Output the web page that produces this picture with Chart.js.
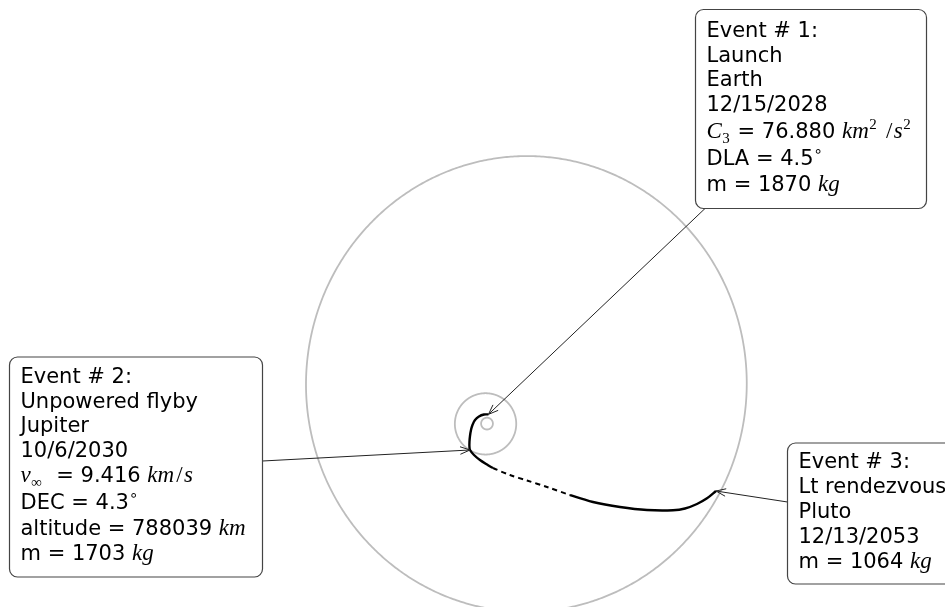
<!DOCTYPE html>
<html>
<head>
<meta charset="utf-8">
<script src="https://cdn.jsdelivr.net/npm/chart.js@4.4.1/dist/chart.umd.min.js"></script>
<style>
  html, body { margin: 0; padding: 0; background: #fff; overflow: hidden; }
  #wrap { width: 945px; height: 607px; }
</style>
</head>
<body>
<div id="wrap"><canvas id="c" width="945" height="607"></canvas></div>
<script>
// Heliocentric ecliptic trajectory, AU
const trajX = [0.25, -0.51, -1.36, -2.03, -2.46, -2.71, -2.88, -2.97, -2.97, -2.88,
               -2.20, -1.19, 0.00, 1.02, 3.90, 6.78, 10.17, 14.07, 17.97, 22.54,
               27.12, 31.53, 33.56, 35.59, 37.29, 38.81];
const trajY = [1.55, 1.53, 1.19, 0.59, -0.25, -1.10, -2.12, -3.14, -3.98, -4.49,
               -5.34, -6.19, -6.95, -7.54, -8.73, -9.66, -10.76, -12.12, -13.31, -14.15,
               -14.66, -14.70, -14.41, -13.64, -12.68, -11.44];
// sparse coast stretch drawn broken
const coastStart = 13;
const coastEnd = 17;

// Event points along the trajectory: launch, flyby, rendezvous
const eventIndex = [0, 9, 25];

// Planet orbits: a [AU], e, i [deg], node [deg], arg. of perihelion [deg]
const orbitNames = ['Earth', 'Jupiter', 'Pluto'];
const orbitA    = [1.0000, 5.2026, 39.482];
const orbitE    = [0.0167, 0.0484, 0.2488];
const orbitInc  = [0.000, 1.303, 17.14];
const orbitNode = [0.00, 100.46, 110.30];
const orbitPeri = [102.94, 273.87, 113.83];

// Event label text; runs are [text, style]
const event1Lines = [
  [['Event # 1:', 'n']],
  [['Launch', 'n']],
  [['Earth', 'n']],
  [['12/15/2028', 'n']],
  [['C', 'mi'], ['3', 'sub'], [' = 76.880 ', 'n'], ['km', 'mi'], ['2', 'sup'], [' ', 'n'], ['/', 'sl'], ['s', 'mi'], ['2', 'sup']],
  [['DLA = 4.5', 'n'], ['\u2218', 'deg']],
  [['m = 1870 ', 'n'], ['kg', 'mi']]
];
const event2Lines = [
  [['Event # 2:', 'n']],
  [['Unpowered flyby', 'n']],
  [['Jupiter', 'n']],
  [['10/6/2030', 'n']],
  [['v', 'mi'], ['\u221E', 'sub'], ['  = 9.416 ', 'n'], ['km', 'mi'], ['/', 'sl'], ['s', 'mi']],
  [['DEC = 4.3', 'n'], ['\u2218', 'deg']],
  [['altitude = 788039 ', 'n'], ['km', 'mi']],
  [['m = 1703 ', 'n'], ['kg', 'mi']]
];
const event3Lines = [
  [['Event # 3:', 'n']],
  [['Lt rendezvous', 'n']],
  [['Pluto', 'n']],
  [['12/13/2053', 'n']],
  [['m = 1064 ', 'n'], ['kg', 'mi']]
];

// Callout boxes (pixels): rectangle, baseline offsets, arrow start
const callouts = [
  { lines: event1Lines, x: 695.5, y: 9.5, w: 231, h: 199,
    base: [27.5, 52, 76.5, 101, 128, 155.5, 181.5], from: [705, 208.5] },
  { lines: event2Lines, x: 9.5, y: 357, w: 253, h: 220,
    base: [26, 50.5, 75, 100, 124.5, 152, 177.5, 202.5], from: [262.5, 461] },
  { lines: event3Lines, x: 787.5, y: 443, w: 200, h: 141,
    base: [25, 50, 74.5, 99.5, 125], from: [787.5, 502] }
];

const runStyle = {
  n:   { font: '21px "DejaVu Sans"', dy: 0, pad: 0 },
  mi:  { font: 'italic 23px "Liberation Serif"', dy: 0, pad: 0.5 },
  sl:  { font: '23px "Liberation Serif"', dy: 0, pad: 1.5 },
  sub: { font: '15px "Liberation Serif"', dy: 5, pad: 1 },
  sup: { font: '15px "Liberation Serif"', dy: -9, pad: 1 },
  deg: { font: '15px "DejaVu Sans"', dy: -9, pad: 0 }
};

const rad = d => d * Math.PI / 180;

function orbitXY(k, E) {
  const a = orbitA[k], e = orbitE[k];
  const xp = a * (Math.cos(E) - e);
  const yp = a * Math.sqrt(1 - e * e) * Math.sin(E);
  const w = rad(orbitPeri[k]), O = rad(orbitNode[k]), i = rad(orbitInc[k]);
  const cw = Math.cos(w), sw = Math.sin(w), cO = Math.cos(O), sO = Math.sin(O), ci = Math.cos(i);
  return {
    x: (cO * cw - sO * sw * ci) * xp + (-cO * sw - sO * cw * ci) * yp,
    y: (sO * cw + cO * sw * ci) * xp + (-sO * sw + cO * cw * ci) * yp
  };
}

const orbitPlugin = {
  id: 'orbits',
  beforeDatasetsDraw(chart) {
    const { ctx, scales: { x, y } } = chart;
    ctx.save();
    ctx.strokeStyle = '#bdbdbd';
    ctx.lineWidth = 1.8;
    for (let k = 0; k < orbitNames.length; k++) {
      ctx.beginPath();
      for (let s = 0; s <= 720; s++) {
        const p = orbitXY(k, s / 720 * 2 * Math.PI);
        const px = x.getPixelForValue(p.x), py = y.getPixelForValue(p.y);
        if (s === 0) ctx.moveTo(px, py); else ctx.lineTo(px, py);
      }
      ctx.closePath();
      ctx.stroke();
    }
    ctx.restore();
  }
};

function roundRect(ctx, x, y, w, h, r) {
  ctx.beginPath();
  ctx.moveTo(x + r, y);
  ctx.arcTo(x + w, y, x + w, y + h, r);
  ctx.arcTo(x + w, y + h, x, y + h, r);
  ctx.arcTo(x, y + h, x, y, r);
  ctx.arcTo(x, y, x + w, y, r);
  ctx.closePath();
}

const calloutPlugin = {
  id: 'callouts',
  afterDatasetsDraw(chart) {
    const { ctx, scales: { x, y } } = chart;
    ctx.save();
    callouts.forEach((c, n) => {
      const idx = eventIndex[n];
      const tx = x.getPixelForValue(trajX[idx]);
      const ty = y.getPixelForValue(trajY[idx]);
      // arrow
      ctx.strokeStyle = '#222';
      ctx.lineWidth = 1;
      ctx.beginPath();
      ctx.moveTo(c.from[0], c.from[1]);
      ctx.lineTo(tx, ty);
      ctx.stroke();
      const ang = Math.atan2(ty - c.from[1], tx - c.from[0]);
      const L = 10.5, spread = rad(21);
      ctx.beginPath();
      ctx.moveTo(tx - L * Math.cos(ang - spread), ty - L * Math.sin(ang - spread));
      ctx.lineTo(tx, ty);
      ctx.lineTo(tx - L * Math.cos(ang + spread), ty - L * Math.sin(ang + spread));
      ctx.stroke();
      // box
      roundRect(ctx, c.x, c.y, c.w, c.h, 8);
      ctx.fillStyle = '#fff';
      ctx.fill();
      ctx.strokeStyle = '#444';
      ctx.lineWidth = 1.2;
      ctx.stroke();
      // text
      ctx.fillStyle = '#000';
      ctx.textBaseline = 'alphabetic';
      ctx.textAlign = 'left';
      c.lines.forEach((runs, li) => {
        let cx = c.x + 11;
        const by = c.y + c.base[li];
        runs.forEach(([t, st]) => {
          const s = runStyle[st];
          ctx.font = s.font;
          cx += st === 'sl' ? s.pad : 0;
          ctx.fillText(t, cx, by + s.dy);
          cx += ctx.measureText(t).width + s.pad;
        });
      });
    });
    ctx.restore();
  }
};

// Axis limits: 5.9 px per AU, Sun at (487, 423.5)
const xMin = -82.54, xMax = 77.63;
const yMin = -31.10, yMax = 71.78;

new Chart(document.getElementById('c'), {
  type: 'scatter',
  data: {
    datasets: [{
      data: trajX.map((v, i) => ({ x: v, y: trajY[i] })),
      showLine: true,
      borderColor: '#000',
      borderWidth: 2.4,
      pointRadius: 0,
      tension: 0.3,
      segment: {
        borderDash: ctx => (ctx.p0DataIndex >= coastStart && ctx.p1DataIndex <= coastEnd) ? [5, 4] : undefined,
        borderWidth: ctx => (ctx.p0DataIndex >= coastStart && ctx.p1DataIndex <= coastEnd) ? 2 : undefined
      }
    }]
  },
  options: {
    responsive: false,
    animation: false,
    devicePixelRatio: 1,
    layout: { padding: 0 },
    plugins: { legend: { display: false }, tooltip: { enabled: false } },
    scales: {
      x: { type: 'linear', min: xMin, max: xMax, display: false },
      y: { type: 'linear', min: yMin, max: yMax, display: false }
    }
  },
  plugins: [orbitPlugin, calloutPlugin]
});
</script>
</body>
</html>
